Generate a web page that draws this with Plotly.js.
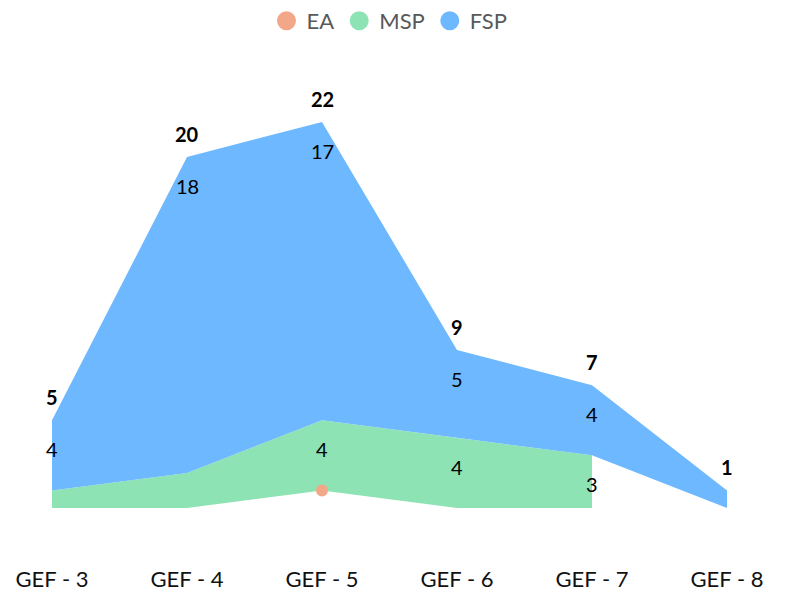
<!DOCTYPE html>
<html>
<head>
<meta charset="utf-8">
<script src="https://cdn.plot.ly/plotly-3.0.1.min.js"></script>
<style>
  html, body { margin: 0; padding: 0; background: #fff; }
  #chart { width: 786px; height: 593px; }
</style>
</head>
<body>
<div id="chart"></div>
<script>
// categories and series values (stacked: EA at the bottom, then MSP, then FSP)
const categories = ['GEF - 3', 'GEF - 4', 'GEF - 5', 'GEF - 6', 'GEF - 7', 'GEF - 8'];
const eaValues  = [0, 0, 1, 0, 0, 0];
const mspValues = [1, 2, 4, 4, 3, null];
const fspValues = [4, 18, 17, 5, 4, 1];

const colors = { EA: '#f2a789', MSP: '#8de3b3', FSP: '#6db8fe' };
const fontFamily = 'Lato, "Open Sans", sans-serif';

// cumulative levels
const n = categories.length;
const lvlEA = eaValues.map(v => v || 0);
const lvlMSP = lvlEA.map((b, i) => b + (mspValues[i] || 0));
const lvlFSP = lvlMSP.map((b, i) => b + (fspValues[i] || 0));

// polygon for a band: top edge forward, bottom edge backward, only where the series has data
function band(topLvl, bottomLvl, vals) {
    const idx = [];
    vals.forEach((v, i) => { if (v !== null) idx.push(i); });
    const xs = idx.map(i => categories[i]).concat(idx.slice().reverse().map(i => categories[i]));
    const ys = idx.map(i => topLvl[i]).concat(idx.slice().reverse().map(i => bottomLvl[i]));
    return { x: xs, y: ys };
}

const mspBand = band(lvlMSP, lvlEA, mspValues);
const fspBand = band(lvlFSP, lvlMSP, fspValues);

// legend-only dot
function legendDot(name) {
    return {
        x: [null], y: [null], type: 'scatter', mode: 'markers', name: name,
        marker: { color: colors[name], size: 20, line: { color: colors[name], width: 3 } }
    };
}

const traces = [
    {
        x: mspBand.x, y: mspBand.y, type: 'scatter', mode: 'lines',
        fill: 'toself', fillcolor: colors.MSP, line: { width: 0, color: colors.MSP },
        showlegend: false, hoverinfo: 'skip'
    },
    {
        x: fspBand.x, y: fspBand.y, type: 'scatter', mode: 'lines',
        fill: 'toself', fillcolor: colors.FSP, line: { width: 0, color: colors.FSP },
        showlegend: false, hoverinfo: 'skip'
    },
    {
        // EA only shows as a dot where it has a value
        x: categories.filter((c, i) => eaValues[i] > 0),
        y: lvlEA.filter((v, i) => eaValues[i] > 0),
        type: 'scatter', mode: 'markers', name: 'EA', showlegend: false,
        marker: { color: colors.EA, size: 12 }
    },
    legendDot('EA'),
    legendDot('MSP'),
    legendDot('FSP')
];

// value labels
const annotations = [];
categories.forEach((c, i) => {
    annotations.push({
        x: c, y: lvlFSP[i], text: '<b>' + lvlFSP[i] + '</b>', showarrow: false,
        yshift: 23, font: { family: fontFamily, size: 20, color: '#000' }
    });
    if (fspValues[i] !== null && fspValues[i] >= 3) {
        annotations.push({
            x: c, y: lvlFSP[i], text: String(fspValues[i]), showarrow: false,
            yshift: -29, font: { family: fontFamily, size: 20, color: '#000' }
        });
    }
    if (mspValues[i] !== null && mspValues[i] >= 3) {
        annotations.push({
            x: c, y: lvlMSP[i], text: String(mspValues[i]), showarrow: false,
            yshift: -29, font: { family: fontFamily, size: 20, color: '#000' }
        });
    }
});

const layout = {
    width: 786,
    height: 593,
    margin: { l: 52, r: 59, t: 60, b: 85, autoexpand: false },
    paper_bgcolor: '#fff',
    plot_bgcolor: '#fff',
    font: { family: fontFamily },
    showlegend: true,
    legend: {
        orientation: 'h', x: 0.5, xanchor: 'center',
        yref: 'container', y: 1 - 21 / 593, yanchor: 'middle',
        font: { family: fontFamily, size: 22, color: '#595959' },
        itemsizing: 'trace', itemwidth: 30, tracegroupgap: 0
    },
    xaxis: {
        type: 'category',
        categoryarray: categories,
        range: [0, n - 1],
        showgrid: false, zeroline: false, showline: false,
        ticks: '',
        ticklabelstandoff: 56,
        tickfont: { family: fontFamily, size: 22, color: '#111' }
    },
    yaxis: {
        range: [0, 25.53],
        showgrid: false, zeroline: false, showline: false,
        showticklabels: false, ticks: ''
    },
    annotations: annotations
};

Plotly.newPlot('chart', traces, layout, { displayModeBar: false, staticPlot: true });
</script>
</body>
</html>
